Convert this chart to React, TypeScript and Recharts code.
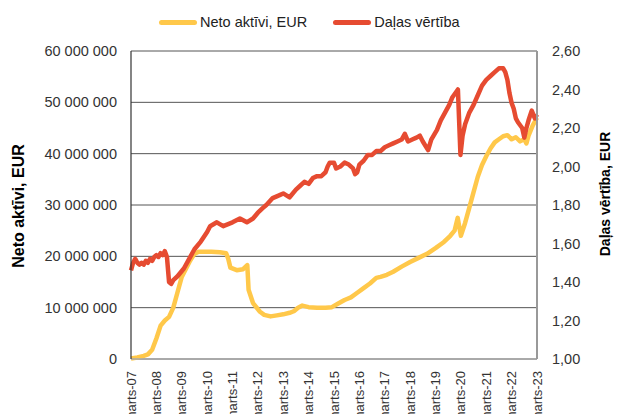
import React from 'react';
import { LineChart, Line, XAxis, YAxis, CartesianGrid, Legend } from 'recharts';

// months counted from March 2007
const tickMonths = [0, 12, 24, 36, 48, 60, 72, 84, 96, 108, 120, 132, 144, 156, 168, 180, 192];
const tickYears = ['07', '08', '09', '10', '11', '12', '13', '14', '15', '16', '17', '18', '19', '20', '21', '22', '23'];

const assetTicks = [0, 10, 20, 30, 40, 50, 60];
const priceTicks = [1.0, 1.2, 1.4, 1.6, 1.8, 2.0, 2.2, 2.4, 2.6];

const seriesNames = ['Neto aktīvi, EUR', 'Daļas vērtība'];

// Neto aktīvi, million EUR
const navMonths = [
  0, 3, 6, 8, 10, 12, 14, 16, 18, 20, 22, 24, 26, 28, 30, 32, 34, 38, 42, 45, 46, 47, 50, 53, 55, 55.6,
  57.7, 61, 63, 66, 69, 72, 75, 77, 79, 81, 84, 88, 92, 95, 98, 101, 104, 107, 110, 113, 116, 118, 121,
  124, 128, 132, 136, 140, 144, 148, 151, 153, 154.5, 156, 158, 160, 162, 164, 166, 168, 170, 172, 174,
  176, 178, 180, 182, 184, 186, 187, 188, 190, 192,
];
const navValues = [
  0.1, 0.3, 0.6, 0.9, 1.8, 4.0, 6.5, 7.5, 8.2, 10.0, 13.0, 16.0, 17.6, 19.2, 20.5, 20.9, 20.9, 20.9, 20.8,
  20.6, 19.5, 17.8, 17.3, 17.5, 18.3, 13.5, 10.9, 9.2, 8.6, 8.3, 8.5, 8.7, 9.0, 9.3, 10.0, 10.4, 10.1, 10.0,
  10.0, 10.1, 10.8, 11.5, 12.0, 12.9, 13.8, 14.7, 15.8, 16.0, 16.4, 17.0, 18.0, 18.9, 19.7, 20.5, 21.6,
  22.8, 24.0, 25.0, 27.5, 24.0, 26.5, 29.5, 32.5, 35.5, 37.8, 39.5, 41.0, 42.2, 42.8, 43.4, 43.6, 42.8,
  43.2, 42.4, 42.8, 42.0, 43.5, 45.5, 47.0,
];

// Daļas vērtība, EUR
const priceMonths = [
  0, 1, 2, 3, 4, 5, 6, 7, 8, 9, 10, 11, 12, 13, 14, 15, 16, 17, 18, 19, 20, 22, 25, 27, 30, 33, 36, 37.4,
  40.6, 43.6, 48, 51.5, 54.8, 57.7, 60, 62.4, 64, 67, 70, 72, 75, 78, 80, 82, 84, 86, 88, 90, 92, 93, 94,
  96, 97, 99, 101, 103, 105, 106, 107, 108, 110, 112, 114, 116, 118, 120, 122, 124, 126, 128, 129.5, 131,
  133, 135, 136.6, 138, 140.5, 142, 144.7, 146.5, 148.5, 150.5, 152, 154.6, 155.8, 156.8, 158, 160, 162,
  164, 166, 168, 170, 172, 174, 176, 177, 178, 179, 180, 181, 182, 183, 185, 186, 187, 188, 189.5, 191, 192,
];
const priceValues = [
  1.46, 1.5, 1.52, 1.5, 1.49, 1.5, 1.49, 1.51, 1.5, 1.52, 1.51, 1.53, 1.54, 1.53, 1.55, 1.54, 1.56, 1.53,
  1.4, 1.39, 1.41, 1.43, 1.47, 1.51, 1.57, 1.61, 1.66, 1.69, 1.71, 1.69, 1.71, 1.73, 1.71, 1.73, 1.76,
  1.785, 1.8, 1.836, 1.85, 1.86, 1.84, 1.88, 1.9, 1.92, 1.91, 1.94, 1.95, 1.95, 1.97, 2.0, 2.02, 2.02,
  1.99, 2.0, 2.02, 2.01, 1.99, 1.96, 1.97, 2.01, 2.03, 2.06, 2.06, 2.08, 2.08, 2.1, 2.11, 2.12, 2.13,
  2.14, 2.17, 2.13, 2.14, 2.15, 2.16, 2.13, 2.085, 2.14, 2.19, 2.24, 2.28, 2.32, 2.36, 2.4, 2.06, 2.16,
  2.22, 2.28, 2.32, 2.37, 2.42, 2.45, 2.47, 2.49, 2.51, 2.51, 2.49, 2.45, 2.38, 2.33, 2.3, 2.25, 2.23,
  2.2, 2.15, 2.2, 2.24, 2.29, 2.25, 2.27,
];

const navData = navMonths.map((m, i) => ({ m, v: navValues[i] }));
const priceData = priceMonths.map((m, i) => ({ m, v: priceValues[i] }));

const FONT = '"Liberation Sans", Arial, sans-serif';
const YELLOW = '#ffc84a';
const RED = '#e64b31';

const fmtAssets = (v: number) =>
  String(Math.round(v * 1000000)).replace(/\B(?=(\d{3})+(?!\d))/g, ' ');
const fmtPrice = (v: number) => v.toFixed(2).replace('.', ',');

const MonthTick = (props: any) => {
  const { x, y, payload } = props;
  const idx = tickMonths.indexOf(payload.value);
  return (
    <text
      x={x}
      y={y + 4}
      transform={`rotate(-90, ${x}, ${y + 4})`}
      textAnchor="end"
      dy="0.35em"
      fontSize={13}
      fontFamily={FONT}
      fill="#333"
    >
      {`marts-${tickYears[idx]}`}
    </text>
  );
};

const renderLegend = (props: any) => {
  const items = [...(props.payload || [])].sort(
    (a: any, b: any) => seriesNames.indexOf(a.value) - seriesNames.indexOf(b.value)
  );
  return (
    <div
      style={{
        height: 51,
        boxSizing: 'border-box',
        display: 'flex',
        paddingLeft: 159,
        paddingTop: 13,
        fontFamily: FONT,
        fontSize: 14.5,
        color: '#222',
      }}
    >
      {items.map((p: any) => (
        <div key={p.value} style={{ display: 'flex', alignItems: 'center', height: 18, marginRight: 26 }}>
          <span
            style={{ width: 38, height: 5, borderRadius: 3, background: p.color, marginRight: 3, display: 'inline-block' }}
          />
          <span>{p.value}</span>
        </div>
      ))}
    </div>
  );
};

const AxisTitle = ({ viewBox, value, dx, dy, size }: any) => {
  const cx = viewBox.x + dx;
  const cy = viewBox.y + viewBox.height / 2 + dy;
  return (
    <text
      x={cx}
      y={cy}
      transform={`rotate(-90, ${cx}, ${cy})`}
      textAnchor="middle"
      dominantBaseline="central"
      fontSize={size}
      fontWeight="bold"
      fontFamily={FONT}
      fill="#000"
    >
      {value}
    </text>
  );
};

export default function App() {
  return (
    <div style={{ position: 'fixed', left: 0, top: 0, background: '#fff' }}>
      <LineChart width={620} height={414} margin={{ top: 0, right: 0, bottom: 0, left: 0 }}>
        <CartesianGrid yAxisId="left" vertical={false} horizontal stroke="#555" strokeWidth={1} />
        <XAxis
          dataKey="m"
          type="number"
          domain={[0, 192]}
          ticks={tickMonths}
          interval={0}
          tick={<MonthTick />}
          tickLine={false}
          axisLine={{ stroke: '#aaa', strokeWidth: 1.5 }}
          height={55}
          allowDuplicatedCategory={false}
        />
        <YAxis
          yAxisId="left"
          domain={[0, 60]}
          ticks={assetTicks}
          tickFormatter={fmtAssets}
          width={131}
          tickLine={false}
          tickMargin={8}
          axisLine={{ stroke: '#333', strokeWidth: 1.2 }}
          tick={{ fontSize: 14.5, fontFamily: FONT, fill: '#333' }}
          label={(p: any) => <AxisTitle {...p} value="Neto aktīvi, EUR" dx={18} dy={1} size={16} />}
        />
        <YAxis
          yAxisId="right"
          orientation="right"
          domain={[1, 2.6]}
          ticks={priceTicks}
          tickFormatter={fmtPrice}
          width={83}
          tickLine={false}
          tickMargin={9}
          axisLine={{ stroke: '#999', strokeWidth: 2 }}
          tick={{ fontSize: 14.5, fontFamily: FONT, fill: '#333' }}
          label={(p: any) => <AxisTitle {...p} value="Daļas vērtība, EUR" dx={68} dy={-11} size={14} />}
        />
        <Legend verticalAlign="top" align="left" content={renderLegend} height={51} />
        <Line
          yAxisId="left"
          data={navData}
          dataKey="v"
          name={seriesNames[0]}
          type="linear"
          stroke={YELLOW}
          strokeWidth={4.5}
          strokeLinejoin="round"
          dot={false}
          isAnimationActive={false}
        />
        <Line
          yAxisId="right"
          data={priceData}
          dataKey="v"
          name={seriesNames[1]}
          type="linear"
          stroke={RED}
          strokeWidth={4.5}
          strokeLinejoin="round"
          dot={false}
          isAnimationActive={false}
        />
      </LineChart>
    </div>
  );
}
